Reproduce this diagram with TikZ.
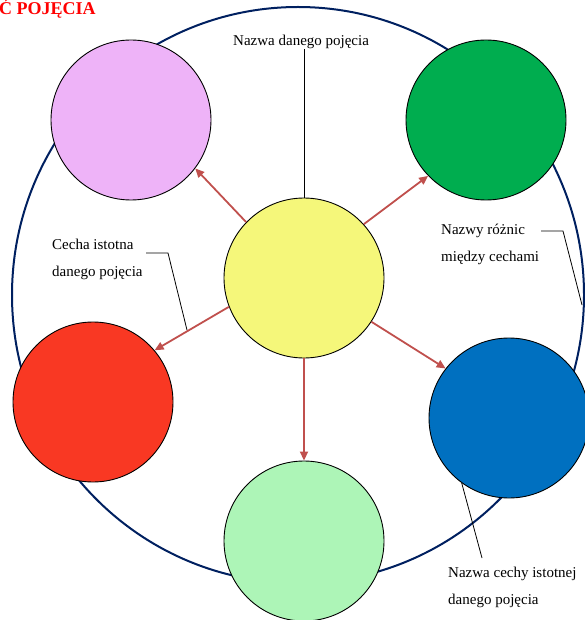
\documentclass[tikz,border=0pt]{standalone}
\usepackage{fontspec}
\setmainfont{Liberation Serif}
\usetikzlibrary{arrows.meta}
\definecolor{navyring}{RGB}{0,32,96}
\definecolor{pinkfill}{RGB}{238,179,248}
\definecolor{greenfill}{RGB}{0,173,79}
\definecolor{yellowfill}{RGB}{245,247,122}
\definecolor{redfill}{RGB}{249,56,35}
\definecolor{bluefill}{RGB}{0,112,192}
\definecolor{lightgreenfill}{RGB}{173,245,183}
\definecolor{arrowred}{RGB}{192,80,77}
\definecolor{titlered}{RGB}{255,0,0}
\begin{document}
\begin{tikzpicture}[x=1pt,y=-1pt,
  bubble/.style={circle, draw=black, line width=0.9pt, minimum size=160pt, inner sep=0pt},
  link/.style={draw=arrowred, line width=1.8pt, -{Triangle[length=9pt,width=8pt]}},
  leader/.style={draw=black, line width=0.8pt},
  lbl/.style={font=\fontsize{15}{27}\selectfont, align=left, inner sep=0pt, anchor=base west}]
\useasboundingbox (0,0) rectangle (585,620);
\draw[navyring, line width=2pt] (298,295) ellipse [x radius=286, y radius=288];

\node[bubble, fill=pinkfill] (pink) at (131,120) {};
\node[bubble, fill=greenfill] (green) at (486,120) {};
\node[bubble, fill=yellowfill] (yellow) at (304,278) {};
\node[bubble, fill=redfill] (red) at (93,402) {};
\node[bubble, fill=bluefill] (blue) at (509,418) {};
\node[bubble, fill=lightgreenfill] (lgreen) at (304,541) {};

\draw[link] (yellow.136) -- (pink.-37);
\draw[link] (yellow.42.5) -- (green.224);
\draw[link] (yellow.201.5) -- (red.40.4);
\draw[link] (yellow.-33.5) -- (blue.142);
\draw[link] (yellow.south) -- (lgreen.north);

\node[anchor=base west, inner sep=0pt, text=titlered, font=\bfseries\fontsize{18}{20}\selectfont] (title) at (-1,15) {Ć POJĘCIA};

\node[lbl] (lname) at (233,46) {Nazwa danego pojęcia};
\node[lbl] (lcecha) at (52,276) {Cecha istotna\\danego pojęcia};
\node[lbl] (lroznice) at (441,261) {Nazwy różnic\\między cechami};
\node[lbl] (lnazwa) at (448,604) {Nazwa cechy istotnej\\danego pojęcia};

\coordinate (c1) at (146,253);
\coordinate (c2) at (168,253);
\coordinate (c3) at (187,330);
\coordinate (r1) at (541,231);
\coordinate (r2) at (563,231);
\coordinate (r3) at (582,305);
\coordinate (n1) at (482,558);

\draw[leader] (lname.south -| yellow.north) -- (yellow.north);
\draw[leader] (c1) -- (c2) -- (c3);
\draw[leader] (r1) -- (r2) -- (r3);
\draw[leader] (blue.234) -- (n1);
\end{tikzpicture}
\end{document}
